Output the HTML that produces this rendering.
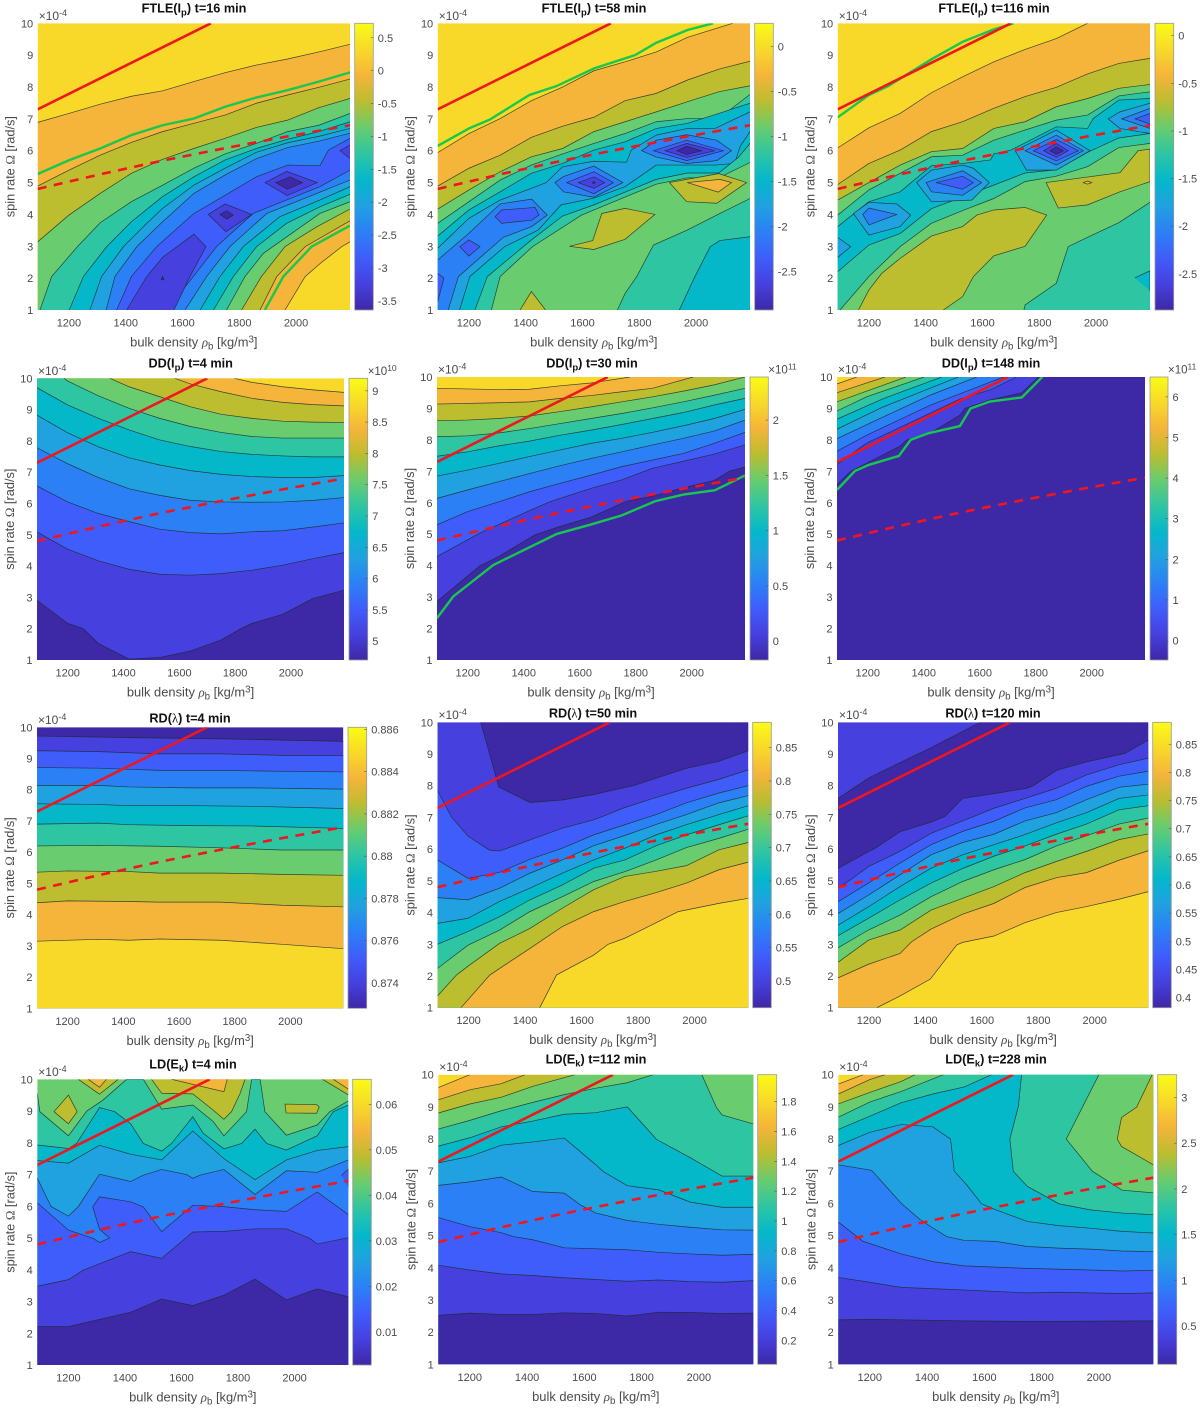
<!DOCTYPE html>
<html lang="en">
<head>
<meta charset="utf-8">
<title>Contour maps of FTLE, DD, RD and LD indicators</title>
<style>
html,body{margin:0;padding:0;background:#fff;}
svg{display:block;font-family:"Liberation Sans",Arial,sans-serif;filter:blur(0.3px);}
</style>
</head>
<body>
<svg id="figure" width="1200" height="1412" viewBox="0 0 1200 1412" xmlns="http://www.w3.org/2000/svg"></svg>
<script>
// ---------- shared data ----------
const bandColors = ['#3d28a6','#4640df','#3f5dfb','#2c80f6','#20a1e0','#04b8ca','#2ec5a3','#69cc6e','#bcbd2f','#f5b43a','#f8d92a'];
const colormapTop = '#f9fb15';
const densityTicks = [1200,1400,1600,1800,2000];
const spinTicks = [1,2,3,4,5,6,7,8,9,10];
const densityRange = [1090,2190];
const spinRange = [1,10];
const solidCritical = [1090,7.3,1420,8.76,1700,10];
const dashedCritical = [1090,4.8,1310,5.26,1530,5.69,1750,6.08,1970,6.45,2190,6.8];

// ---------- FTLE(Ip) t=16 ----------
const ftle16Ticks = [0.5,0,-0.5,-1,-1.5,-2,-2.5,-3,-3.5];
const ftle16Range = [-3.64,0.72];
const ftle16Green = [
 [1090,5.27,1200,5.7,1310,6.07,1420,6.49,1530,6.8,1640,7.01,1750,7.38,1860,7.67,1970,7.9,2080,8.17,2190,8.46],
 [1890,1,1955,2.05,2055,2.99,2190,3.65]
];
const ftle16Bands = [
 [9,[1090,6.89,1200,7.17,1310,7.46,1420,7.71,1530,7.88,1640,8.17,1750,8.45,1860,8.69,1970,8.88,2080,9.1,2190,9.34]],
 [8,[1090,4.89,1200,5.39,1310,5.86,1420,6.26,1530,6.6,1640,6.86,1750,7.12,1860,7.49,1970,7.75,2080,7.99,2190,8.25]],
 [7,[1090,3.14,1200,3.98,1310,4.66,1420,5.29,1530,5.73,1640,6.07,1750,6.39,1860,6.73,1970,6.96,2080,7.35,2190,7.64]],
 [6,[1098,1,1139,2.05,1230,2.99,1310,3.74,1420,4.4,1530,4.92,1640,5.45,1750,5.9,1860,6.23,1970,6.6,2080,6.8,2190,7.17]],
 [5,[1201,1,1251,2.05,1333,2.99,1420,3.77,1530,4.56,1640,5.18,1750,5.71,1860,6.07,1970,6.36,2080,6.6,2190,6.91]],
 [4,[1274,1,1315,2.05,1392,2.99,1474,3.72,1530,4.19,1640,4.92,1750,5.45,1860,5.95,1970,6.25,2080,6.45,2190,6.7]],
 [3,[1331,1,1362,2.05,1439,2.99,1530,3.77,1640,4.66,1750,5.24,1860,5.75,1970,6.1,2080,6.3,2190,6.55]],
 [2,[1368,1,1420,2.05,1509,2.99,1640,4.03,1750,4.6,1860,5.18,1970,5.55,2084,5.53,2114,6.02,2190,6.39]],
 [3,[1544,1,1638,2.05,1720,2.99,1849,4.03,1966,4.45,2084,4.87,2190,5.39]],
 [4,[1609,1,1685,2.05,1767,2.99,1897,4.03,2073,4.66,2190,5.08]],
 [5,[1662,1,1732,2.05,1814,2.99,1943,3.93,2084,4.45,2190,4.87]],
 [6,[1709,1,1779,2.05,1861,2.99,1967,3.72,2084,4.24,2190,4.63]],
 [7,[1755,1,1820,2.05,1885,2.78,2084,4.03,2190,4.4]],
 [8,[1808,1,1878,2.05,1961,2.99,2073,3.61,2190,4.17]],
 [9,[1873,1,1932,2.05,2032,2.99,2190,3.8]],
 [10,[1961,1,2032,2.05,2085,2.46,2161,2.99,2190,3.14]],
 [1,[1403,1,1474,2.05,1532,2.67,1640,3.38,1683,2.99,1626,2.05,1570,1],[]],
 [0,[1525,1.95,1530,2.06,1535,1.95],'loop'],
 [1,[1691,4,1750,4.33,1844,4,1753,3.46],'loop'],
 [0,[1732,4,1756,4.12,1779,3.98,1756,3.85],'loop'],
 [1,[1891,5,1967,5.35,2075,5,1969,4.59],'loop'],
 [0,[1929,5,1979,5.18,2023,5,1969,4.79],'loop'],
 [1,[2190,6.18,2155,6,2190,5.76],[]]
];

// ---------- FTLE(Ip) t=58 ----------
const ftle58Ticks = [0,-0.5,-1,-1.5,-2,-2.5];
const ftle58Range = [-2.93,0.26];
const ftle58Green = [
 [1090,6.15,1200,6.7,1274,6.98,1413,7.75,1509,8.03,1640,8.58,1785,9,1860,9.39,1970,9.79,2060,10]
];
const ftle58Bands = [
 [9,[1090,5.94,1200,6.54,1310,7.01,1420,7.57,1530,8,1640,8.51,1750,8.79,1860,9.1,1970,9.56,2129,10]],
 [8,[1090,4.89,1200,5.45,1310,5.86,1420,6.42,1530,6.77,1640,7.05,1750,7.57,1860,7.8,1970,8.22,2080,8.56,2190,8.81]],
 [7,[1090,4.17,1200,4.77,1310,5.34,1420,5.81,1530,6.07,1640,6.6,1750,6.91,1860,7.22,1970,7.54,2080,7.85,2190,8.04]],
 [6,[1090,3.72,1200,4.4,1310,5.08,1420,5.55,1530,5.9,1640,6.23,1750,6.54,1860,6.91,1970,7.01,2080,7.01,2190,7.77]],
 [5,[1090,3.32,1200,4.14,1310,4.71,1420,5.29,1530,5.6,1640,6.02,1750,6.28,1860,6.7,1970,6.86,2080,7.17,2190,7.49]],
 [4,[1090,2.94,1200,3.88,1310,4.45,1420,4.82,1472,5,1530,5.5,1640,5.67,1755,5.64,1772,6.02,1860,6.49,1970,6.7,2067,6.7,2190,7.22]],
 [5,[1167,1,1203,2.05,1326,2.99,1444,3.51,1525,4.3,1640,4.51,1750,4.87,1860,5.55,1970,5.55,2068,5.55,2136,5.6,2155,6.13,2190,6.6]],
 [6,[1221,1,1265,2.05,1420,3.2,1530,3.95,1640,4.3,1860,5.1,1970,5.3,2080,5.3,2150,5.8,2190,6.23]],
 [7,[1279,1,1310,2.05,1424,2.99,1597,3.98,1860,4.95,1970,5.15,2080,5.15,2190,5.63]],
 [3,[1090,2.57,1200,3.41,1310,4.33,1421,4.48,1476,3.98,1421,3.62,1321,3.28,1163,2.05,1127,1],[1090,1]],
 [2,[1292,3.93,1315,4.14,1433,4.22,1447,3.98,1421,3.82,1315,3.72],'loop'],
 [2,[1200,3.2,1239,2.99,1200,2.69,1168,2.99],'loop'],
 [2,[1090,2.15,1112,2,1090,1.26],[]],
 [3,[1503,5,1533,5.19,1640,5.52,1742,5,1640,4.54,1533,4.71],'loop'],
 [2,[1544,5,1640,5.34,1709,5,1640,4.65],'loop'],
 [1,[1585,5,1640,5.18,1679,5,1640,4.82],'loop'],
 [0,[1635,5,1640,5.04,1645,5,1640,4.96],'loop'],
 [3,[1808,6,1860,6.33,1967,6.5,2073,6.33,2125,6,2073,5.69,1967,5.6,1860,5.8],'loop'],
 [2,[1850,6,1967,6.33,2096,6,1967,5.69],'loop'],
 [1,[1891,6,1967,6.23,2067,6,1967,5.79],'loop'],
 [0,[1932,6,1967,6.14,2020,6,1967,5.88],'loop'],
 [8,[1554,3,1636,3.18,1668,4.03,1750,4.19,1855,4,1750,3.22,1640,2.9],'loop'],
 [8,[1906,5,1967,5.1,2080,5.28,2178,5,2073,4.35,1967,4.4],'loop'],
 [9,[1969,5,2084,5.1,2125,5,2078,4.7],'loop'],
 [8,[1380,1,1420,1.58,1470,1],[]],
 [6,[1723,1,1750,1.52,1791,2.05,1850,3.04,1967,3.5,2084,4.03,2190,4.5]],
 [5,[1941,1,1996,2.05,2050,2.99,2084,3.18,2190,3.3]]
];

// ---------- FTLE(Ip) t=116 ----------
const ftle116Ticks = [0,-0.5,-1,-1.5,-2,-2.5];
const ftle116Range = [-2.88,0.13];
const ftle116Green = [
 [1090,7.05,1200,7.75,1268,8.03,1420,8.87,1530,9.42,1640,9.81,1709,10]
];
const ftle116Bands = [
 [9,[1090,6.09,1200,6.72,1310,7.17,1420,7.82,1530,8.32,1640,8.79,1750,9.18,1860,9.52,1970,10]],
 [8,[1090,4.94,1200,5.6,1310,6.02,1420,6.6,1530,6.91,1640,7.33,1750,7.7,1860,7.99,1970,8.41,2080,8.74,2190,8.9]],
 [7,[1090,4.45,1200,5,1310,5.55,1420,5.97,1530,6.07,1640,6.7,1750,6.91,1860,7.38,1970,7.64,2080,7.96,2190,8.08]],
 [6,[1090,3.98,1200,4.77,1310,5.29,1420,5.81,1530,5.86,1640,6.33,1750,6.65,1860,6.96,1970,7.12,2080,7.72,2190,7.85]],
 [5,[1090,3.62,1200,4.4,1310,4.71,1420,5.53,1530,5.6,1628,5.71,1640,5.9,1700,6.02,1860,6.75,1970,6.7,1990,7.01,2080,7.59,2190,7.64]],
 [6,[1090,2.2,1200,3.04,1310,3.4,1420,4.18,1530,4.55,1640,4.92,1750,5.3,1860,5.4,1970,5.95,2080,6.4,2190,6.54]],
 [7,[1098,1,1200,2.05,1310,2.99,1420,3.72,1530,4.12,1640,4.5,1750,5.03,1860,5.2,1970,5.5,2080,6.1,2190,6.23]],
 [8,[1163,1,1200,1.63,1245,2.15,1310,2.62,1420,3.32,1530,3.62,1580,3.98,1640,4.14,1750,4.22,1826,3.98,1750,3,1640,2.7,1568,2.05,1530,1.42,1462,1],[]],
 [8,[1824,5,2084,5.31,2148,6,2190,6.05,2190,5.03,2084,4.71,1970,4.3,1867,4.2],'loop'],
 [9,[1955,5,1970,5.05,1985,5,1970,4.95],'loop'],
 [6,[1746,1,1750,1.16,1860,1.84,1902,2.99,1970,3.28,2080,3.74,2190,4.38]],
 [5,[2137,2.01,2190,2.23,2190,1.6],[]],
 [4,[1090,3.28,1136,2.99,1090,2.65],[]],
 [4,[1145,4.03,1200,4.38,1298,4.33,1347,3.98,1310,3.62,1200,3.35],'loop'],
 [3,[1178,4,1200,4.2,1298,4,1200,3.67],'loop'],
 [4,[1368,5,1420,5.39,1530,5.55,1568,5.45,1624,5,1562,4.45,1420,4.4],'loop'],
 [3,[1401,5,1530,5.37,1597,5,1530,4.6,1420,4.71],'loop'],
 [2,[1436,5,1530,5.2,1568,5,1530,4.79],'loop'],
 [4,[1715,6,1860,6.65,1979,6,1860,5.39,1755,5.39],'loop'],
 [3,[1750,6,1860,6.49,1955,6,1860,5.55],'loop'],
 [2,[1779,6,1860,6.35,1938,6,1860,5.68],'loop'],
 [1,[1815,6,1860,6.23,1902,6,1860,5.79],'loop'],
 [0,[1838,6,1860,6.12,1885,6,1860,5.89],'loop'],
 [4,[2190,7.49,2084,7.22,2043,7,2084,6.7,2190,6.54],[]],
 [3,[2190,7.33,2090,7,2190,6.7],[]],
 [2,[2190,7.17,2137,7,2190,6.84],[]]
];

// ---------- DD(Ip) t=4 ----------
const dd4Ticks = [9,8.5,8,7.5,7,6.5,6,5.5,5];
const dd4Range = [4.7,9.2];
const dd4Green = [];
const dd4Bands = [
 [9,[1797,10,1860,9.87,1970,9.73,2080,9.63,2190,9.55]],
 [8,[1584,10,1640,9.82,1750,9.57,1860,9.36,1970,9.23,2080,9.16,2190,9.12]],
 [7,[1351,10,1420,9.73,1530,9.41,1640,9.09,1750,8.85,1860,8.72,1970,8.63,2080,8.6,2190,8.59]],
 [6,[1187,10,1200,9.91,1310,9.44,1420,9.04,1530,8.72,1640,8.46,1750,8.27,1860,8.14,1970,8.09,2080,8.09,2190,8.09]],
 [5,[1090,9.7,1200,9.15,1310,8.72,1420,8.35,1530,8.03,1640,7.82,1750,7.66,1860,7.57,1970,7.52,2080,7.49,2190,7.49]],
 [4,[1090,8.82,1200,8.26,1310,7.81,1420,7.46,1530,7.23,1640,7.05,1750,6.93,1860,6.86,1970,6.83,2080,6.83,2190,6.89]],
 [3,[1090,7.78,1200,7.27,1310,6.83,1420,6.47,1530,6.26,1640,6.1,1750,6.05,1860,6.04,1970,6.05,2080,6.1,2190,6.19]],
 [2,[1090,6.56,1200,6.05,1310,5.68,1420,5.42,1530,5.18,1640,5.07,1750,5.03,1860,5.1,1970,5.13,2080,5.25,2190,5.38]],
 [1,[1090,5.09,1200,4.54,1310,4.17,1420,3.9,1530,3.74,1640,3.71,1750,3.76,1860,3.87,1970,4.03,2080,4.24,2190,4.43]],
 [0,[1090,2.91,1200,2.17,1256,2,1310,1.53,1420,1.03,1530,1.08,1640,1.29,1750,1.64,1820,2,1860,2.17,1970,2.46,2080,2.97,2190,3.23]]
];

// ---------- DD(Ip) t=30 ----------
const dd30Ticks = [2,1.5,1,0.5,0];
const dd30Range = [-0.17,2.39];
const dd30Green = [
 [1090,2.33,1148,3.02,1291,4.02,1518,5.01,1636,5.3,1750,5.6,1869,6.05,1970,6.26,2083,6.4,2190,6.87]
];
const dd30Bands = [
 [9,[1090,9.64,1310,9.6,1420,9.61,1530,9.72,1640,9.81,1780,10]],
 [8,[1090,9.14,1310,9.18,1420,9.21,1530,9.32,1640,9.41,1750,9.53,1860,9.64,2005,10]],
 [7,[1090,8.61,1200,8.63,1310,8.68,1420,8.76,1530,8.9,1640,9.05,1750,9.21,1860,9.37,1970,9.55,2080,9.75,2190,10]],
 [6,[1090,8.1,1200,8.13,1310,8.22,1420,8.36,1530,8.52,1640,8.68,1750,8.84,1860,9.02,1970,9.21,2080,9.42,2190,9.64]],
 [5,[1090,7.48,1200,7.62,1310,7.81,1420,7.96,1530,8.15,1640,8.31,1750,8.49,1860,8.68,1970,8.87,2080,9.11,2190,9.32]],
 [4,[1090,6.85,1200,7.04,1310,7.25,1420,7.47,1530,7.68,1640,7.89,1750,8.05,1860,8.24,1970,8.45,2080,8.68,2190,8.97]],
 [3,[1090,6.14,1200,6.41,1310,6.67,1420,6.93,1530,7.18,1640,7.41,1750,7.62,1860,7.84,1970,8.05,2080,8.28,2190,8.63]],
 [2,[1090,5.3,1200,5.72,1310,6.03,1420,6.35,1530,6.62,1640,6.88,1750,7.15,1860,7.36,1970,7.57,2080,7.89,2190,8.24]],
 [1,[1090,4.29,1244,5.04,1420,5.75,1495,6.04,1640,6.46,1750,6.73,1860,7.1,1970,7.32,2080,7.55,2190,7.84]],
 [0,[1090,2.86,1244,4,1310,4.29,1440,4.98,1530,5.25,1640,5.54,1767,6.05,1860,6.21,1970,6.48,2080,6.71,2136,7.01,2190,7.14]]
];

// ---------- DD(Ip) t=148 ----------
const dd148Ticks = [6,5,4,3,2,1,0];
const dd148Range = [-0.48,6.49];
const dd148Green = [
 [1090,6.41,1154,7.01,1202,7.2,1311,7.49,1353,8,1416,8.21,1529,8.44,1567,9,1636,9.22,1750,9.35,1823,10]
];
const dd148Bands = [
 [9,[1090,9.78,1160,10]],
 [8,[1090,9.5,1261,10]],
 [7,[1090,9.21,1336,10]],
 [6,[1090,8.92,1196,9.37,1401,10]],
 [5,[1090,8.66,1255,9.31,1464,10]],
 [4,[1090,8.34,1255,9.05,1523,10]],
 [3,[1090,8.04,1255,8.73,1422,9.42,1589,10]],
 [2,[1090,7.64,1196,8.15,1422,9.1,1684,10]],
 [1,[1090,7.22,1196,7.9,1422,8.85,1530,9.3,1640,9.6,1731,10]],
 [0,[1090,6.58,1137,6.99,1315,7.8,1339,8,1422,8.21,1529,8.79,1547,9,1636,9.27,1750,9.5,1809,10]]
];

// ---------- RD(lambda) t=4 ----------
const rd4Ticks = [0.886,0.884,0.882,0.88,0.878,0.876,0.874];
const rd4Range = [0.8728,0.8861];
const rd4Green = [];
const rd4Bands = [
 [1,[1090,9.72,1420,9.67,1750,9.63,2190,9.55]],
 [2,[1090,9.25,1310,9.22,1530,9.15,1750,9.15,1970,9.1,2190,9.09]],
 [3,[1090,8.71,1310,8.69,1530,8.62,1750,8.62,1970,8.59,2190,8.57]],
 [4,[1090,8.14,1310,8.14,1420,8.09,1640,8.06,1860,8.06,2190,8.02]],
 [5,[1090,7.55,1310,7.53,1420,7.49,1640,7.49,1860,7.47,2190,7.4]],
 [6,[1090,6.9,1310,6.93,1420,6.88,1640,6.85,1860,6.84,2190,6.76]],
 [7,[1090,6.2,1310,6.22,1530,6.19,1750,6.14,1970,6.07,2190,6.07]],
 [8,[1090,5.36,1200,5.4,1420,5.38,1530,5.33,1750,5.33,1970,5.29,2190,5.26]],
 [9,[1090,4.38,1200,4.44,1420,4.42,1530,4.4,1750,4.4,1970,4.3,2190,4.25]],
 [10,[1090,3.15,1310,3.21,1420,3.18,1530,3.22,1750,3.18,1970,3.05,2190,2.91]]
];

// ---------- RD(lambda) t=50 ----------
const rd50Ticks = [0.85,0.8,0.75,0.7,0.65,0.6,0.55,0.5];
const rd50Range = [0.46,0.888];
const rd50Green = [];
const rd50Bands = [
 [0,[1243,10,1307,7.96,1417,7.47,1532,7.55,1641,7.72,1783,8,1971,8.55,2086,8.77,2190,9.1],[2190,10]],
 [2,[1090,7.85,1139,7.02,1198,6.41,1274,5.97,1310,5.94,1417,6.29,1532,6.66,1641,6.92,1675,7.03,1746,7.29,1853,7.6,1971,7.92,2086,8.2,2190,8.5]],
 [3,[1090,5.66,1198,5.08,1310,5.27,1417,5.68,1532,6.03,1643,6.45,1753,6.77,1864,7.09,1971,7.46,2086,7.77,2190,8]],
 [4,[1090,4.47,1198,4.4,1310,4.77,1417,5.24,1532,5.66,1643,6.11,1753,6.43,1864,6.78,1971,7.09,2086,7.46,2190,7.69]],
 [5,[1090,3.66,1198,3.82,1310,4.35,1417,4.77,1532,5.24,1643,5.66,1753,6.03,1864,6.45,1971,6.77,2086,7.09,2190,7.37]],
 [6,[1090,3,1198,3.4,1310,3.87,1417,4.4,1532,4.87,1643,5.4,1753,5.66,1864,6.11,1971,6.45,2086,6.77,2190,7.05]],
 [7,[1090,2.24,1198,2.97,1310,3.45,1417,4.03,1532,4.5,1643,4.98,1753,5.29,1864,5.66,1971,6.05,2086,6.34,2190,6.63]],
 [8,[1090,1.37,1157,2.03,1198,2.31,1310,3.03,1417,3.5,1532,4.14,1643,4.72,1753,5.14,1864,5.3,1971,5.48,2086,5.98,2190,6.21]],
 [9,[1173,1,1275,2.03,1417,2.87,1532,3.56,1643,4.03,1753,4.35,1864,4.63,1971,4.93,2086,5.35,2190,5.59]],
 [10,[1452,1,1511,2.03,1643,2.66,1694,3,1753,3.19,1864,3.68,1942,4.03,2086,4.29,2190,4.45]]
];

// ---------- RD(lambda) t=120 ----------
const rd120Ticks = [0.85,0.8,0.75,0.7,0.65,0.6,0.55,0.5,0.45,0.4];
const rd120Range = [0.382,0.889];
const rd120Green = [];
const rd120Bands = [
 [0,[1090,7.6,1200,8.25,1310,8.73,1420,9.2,1594,10]],
 [1,[1090,5.39,1198,5.92,1222,6.03,1310,6.55,1420,6.85,1469,7.03,1532,7.6,1643,7.75,1759,7.92,1783,8,1866,8.49,1971,8.75,2107,9.02,2190,9.44]],
 [2,[1090,4.77,1134,5.03,1198,5.45,1310,5.93,1420,6.5,1532,6.89,1643,7.29,1753,7.6,1864,7.92,1971,8.34,2086,8.66,2190,8.87]],
 [3,[1090,4.34,1198,4.93,1310,5.56,1420,6.14,1532,6.56,1643,6.88,1753,7.3,1864,7.56,1971,7.98,2086,8.3,2190,8.46]],
 [4,[1090,3.97,1198,4.55,1310,5.19,1420,5.82,1532,6.21,1643,6.47,1753,6.89,1864,7.15,1971,7.56,2086,7.95,2190,8.05]],
 [5,[1090,3.6,1198,4.18,1310,4.82,1420,5.4,1532,5.82,1643,6.14,1753,6.46,1864,6.83,1971,7.15,2086,7.6,2190,7.71]],
 [6,[1090,3.27,1198,3.82,1310,4.4,1420,4.93,1532,5.39,1643,5.78,1753,6.1,1864,6.47,1971,6.79,2086,7.24,2190,7.37]],
 [7,[1090,2.89,1198,3.45,1310,3.92,1420,4.5,1532,4.98,1643,5.35,1753,5.67,1864,6.1,1971,6.42,2086,6.79,2190,6.98]],
 [8,[1090,2.43,1198,3.13,1310,3.45,1420,4.08,1532,4.45,1643,4.82,1753,5.26,1864,5.61,1971,5.93,2086,6.3,2190,6.48]],
 [9,[1090,1.94,1198,2.37,1310,2.71,1351,3.08,1420,3.48,1532,3.95,1643,4.29,1753,4.79,1864,5.1,1971,5.26,2086,5.65,2190,5.95]],
 [10,[1228,1,1310,1.37,1417,1.9,1511,2.98,1532,3.06,1643,3.26,1753,3.68,1864,4,1971,4.19,2086,4.42,2190,4.66]]
];

// ---------- LD(Ek) t=4 ----------
const ld4Ticks = [0.06,0.05,0.04,0.03,0.02,0.01];
const ld4Range = [0.0027,0.0655];
const ld4Green = [];
const ld4Bands = [
 [8,[1149,8.98,1200,9.5,1231,8.98,1200,8.6],'loop'],
 [8,[1235,10,1310,9.53,1376,10],[]],
 [9,[1270,10,1310,9.75,1335,10],[]],
 [8,[1494,10,1530,9.56,1640,9.54,1712,9.03,1750,8.74,1777,8.98,1807,9.55,1825,10],[]],
 [9,[1565,10,1750,9.61,1762,10],[]],
 [8,[1966,9.22,1970,8.94,2078,8.93,2087,9.13,2078,9.2],'loop'],
 [8,[2099,10,2190,9.51],[2190,10]],
 [9,[2137,10,2190,9.69],[2190,10]],
 [6,[1090,9.56,1099,8.98,1200,8.22,1265,9,1323,9.35,1406,10,1465,10,1530,9.06,1640,9.19,1712,8.67,1750,8.22,1830,8.98,1848,10,1878,10,1895,8.98,1971,8.24,2080,8.56,2125,8.98,2190,9.32]],
 [5,[1090,7.93,1200,7.82,1229,7.98,1310,9.11,1364,8.98,1420,8.6,1465,7.98,1530,7.74,1565,7.98,1640,8.82,1677,8.3,1750,7.81,1813,7.98,1860,8.43,1901,7.98,1971,7.77,2080,8.22,2137,8.98,2190,9.19]],
 [4,[1090,7.44,1200,7.36,1310,7.92,1420,7.64,1530,7.46,1640,8.37,1750,7.5,1860,6.84,1971,7.46,2080,7.76,2190,7.88]],
 [3,[1090,6.88,1139,5.99,1200,5.69,1235,5.99,1310,7.01,1420,6.78,1465,6.98,1530,7.16,1618,7,1640,6.88,1665,6.98,1750,7.16,1860,6.37,1971,7.12,2080,7.07,2190,7.46]],
 [2,[1090,6.11,1200,5.25,1287,4.99,1310,4.86,1345,5,1310,5.28,1286,5.98,1310,6.3,1420,6.14,1465,5.98,1530,5.2,1640,6.03,1750,5.99,1860,5.89,1971,5.84,2080,6.45,2190,5.74]],
 [2,[2166,6.97,2190,7.17,2190,6.6],[]],
 [1,[1090,3.48,1200,3.69,1253,3.99,1420,4.57,1530,4.36,1640,5.19,1750,5.21,1860,5.29,1971,5.29,2054,4.99,2080,4.81,2190,5.01]],
 [0,[1090,2.21,1200,2.21,1420,2.66,1530,3.08,1640,2.87,1750,3.2,1860,3.71,1971,3.05,2080,3.4,2190,3.15]]
];

// ---------- LD(Ek) t=112 ----------
const ld112Ticks = [1.8,1.6,1.4,1.2,1,0.8,0.6,0.4,0.2];
const ld112Range = [0.04,1.98];
const ld112Green = [];
const ld112Bands = [
 [9,[1090,9.6,1200,10]],
 [8,[1090,9.22,1200,9.53,1310,9.72,1393,10]],
 [7,[1090,8.81,1200,9.09,1310,9.3,1420,9.64,1567,10]],
 [6,[1090,8.31,1200,8.58,1310,8.88,1420,9.14,1530,9.38,1640,9.58,1750,9.75,1841,10]],
 [7,[2010,10,2062,8.97,2081,8.75,2190,8.47],[2190,10]],
 [5,[1090,7.78,1200,8.04,1310,8.38,1420,8.56,1530,8.77,1640,8.82,1750,9,1852,7.99,1970,7.42,2081,6.85,2190,6.85]],
 [4,[1090,7.26,1200,7.46,1310,7.81,1420,7.91,1530,8.03,1640,7.2,1666,6.99,1750,6.55,1860,6.42,1970,6.04,2081,5.88,2190,5.88]],
 [3,[1090,6.56,1200,6.67,1310,6.82,1420,6.37,1530,6.32,1585,5.96,1640,5.7,1750,5.47,1860,5.35,1970,5.26,2081,5.18,2190,5.17]],
 [2,[1090,5.56,1200,5.28,1310,5.09,1352,4.97,1420,4.87,1530,4.62,1750,4.56,1860,4.48,1970,4.43,2081,4.39,2190,4.42]],
 [1,[1090,4.08,1200,3.93,1310,3.81,1420,3.76,1530,3.69,1750,3.58,1860,3.62,1970,3.57,2081,3.55,2190,3.6]],
 [0,[1090,2.52,1200,2.59,1310,2.55,1420,2.55,1530,2.6,1640,2.58,1750,2.5,1860,2.62,1970,2.61,2081,2.58,2190,2.59]]
];

// ---------- LD(Ek) t=228 ----------
const ld228Ticks = [3,2.5,2,1.5,1,0.5];
const ld228Range = [0.08,3.25];
const ld228Green = [];
const ld228Bands = [
 [9,[1090,9.71,1177,10]],
 [8,[1090,9.4,1200,9.85,1253,10]],
 [7,[1090,9.09,1200,9.45,1310,9.79,1358,10]],
 [6,[1090,8.68,1200,9.15,1310,9.48,1457,10]],
 [5,[1090,8.3,1200,8.71,1310,9.13,1420,9.4,1530,9.62,1625,10]],
 [6,[1730,10,1719,9.02,1689,8,1701,7,1750,6.53,1860,5.99,1970,5.8,2081,5.7,2190,5.65],[2190,10]],
 [7,[2000,10,1886,8,1977,7,2081,6.41,2190,6.33],[2190,10]],
 [8,[2186,10,2132,8.99,2079,8.67,2064,8,2079,7.77,2190,7.2],[2190,10]],
 [4,[1090,7.8,1200,8.21,1310,8.45,1420,8.38,1482,8,1495,7,1538,6.58,1590,5.99,1640,5.8,1750,5.44,1860,5.31,1970,5.23,2081,5.13,2190,5.08]],
 [3,[1090,7.2,1206,7.03,1310,6,1375,5.5,1420,5.24,1468,4.97,1530,4.85,1640,4.82,1750,4.66,1860,4.61,1970,4.58,2081,4.52,2190,4.5]],
 [2,[1090,5.42,1177,4.82,1310,4.43,1420,4.19,1530,4.06,1750,3.98,1970,3.93,2081,3.9,2190,3.92]],
 [1,[1090,3.7,1200,3.55,1310,3.39,1530,3.31,1750,3.22,1860,3.24,2081,3.2,2190,3.22]],
 [0,[1090,2.38,1200,2.4,1530,2.35,1750,2.33,2190,2.35]]
];

// ---------- panel layout ----------
const panels = [
 {id:'ftle-16',name:'FTLE',arg:'I',sub:'p',suffix:') t=16 min',tx:194,ty:12.5,l:37.7,r:350,t:23.3,b:310,cl:354.7,cr:373.3,base:10,ticks:ftle16Ticks,range:ftle16Range,bands:ftle16Bands,green:ftle16Green},
 {id:'ftle-58',name:'FTLE',arg:'I',sub:'p',suffix:') t=58 min',tx:594,ty:12.5,l:437.7,r:750,t:23.3,b:310,cl:754.7,cr:773.3,base:10,ticks:ftle58Ticks,range:ftle58Range,bands:ftle58Bands,green:ftle58Green},
 {id:'ftle-116',name:'FTLE',arg:'I',sub:'p',suffix:') t=116 min',tx:994,ty:12.5,l:837.7,r:1150,t:23.3,b:310,cl:1155,cr:1173.7,base:10,ticks:ftle116Ticks,range:ftle116Range,bands:ftle116Bands,green:ftle116Green},
 {id:'dd-4',name:'DD',arg:'I',sub:'p',suffix:') t=4 min',tx:190.7,ty:367.5,l:37,r:344,t:378.3,b:660,cl:349,cr:367.7,base:10,mult:'10',multExp:'10',ticks:dd4Ticks,range:dd4Range,bands:dd4Bands,green:dd4Green},
 {id:'dd-30',name:'DD',arg:'I',sub:'p',suffix:') t=30 min',tx:592,ty:367.5,l:437,r:745,t:377,b:660,cl:750,cr:768.3,base:10,mult:'10',multExp:'11',ticks:dd30Ticks,range:dd30Range,bands:dd30Bands,green:dd30Green},
 {id:'dd-148',name:'DD',arg:'I',sub:'p',suffix:') t=148 min',tx:991,ty:367.5,l:837,r:1145,t:377,b:660,cl:1150,cr:1168,base:10,mult:'10',multExp:'11',ticks:dd148Ticks,range:dd148Range,bands:dd148Bands,green:dd148Green},
 {id:'rd-4',name:'RD',arg:'λ',sub:'',suffix:') t=4 min',tx:190,ty:722.5,l:37,r:343.3,t:727.3,b:1008.3,cl:348,cr:366.7,base:0,ticks:rd4Ticks,range:rd4Range,bands:rd4Bands,green:rd4Green},
 {id:'rd-50',name:'RD',arg:'λ',sub:'',suffix:') t=50 min',tx:593,ty:717.5,l:437.5,r:748.3,t:722.3,b:1007.7,cl:752.7,cr:771.3,base:1,ticks:rd50Ticks,range:rd50Range,bands:rd50Bands,green:rd50Green},
 {id:'rd-120',name:'RD',arg:'λ',sub:'',suffix:') t=120 min',tx:993,ty:717.5,l:838,r:1148.3,t:722.3,b:1007.7,cl:1152.7,cr:1171.3,base:1,ticks:rd120Ticks,range:rd120Range,bands:rd120Bands,green:rd120Green},
 {id:'ld-4',name:'LD',arg:'E',sub:'k',suffix:') t=4 min',tx:193,ty:1068.5,l:37.3,r:348.3,t:1079.3,b:1365,cl:352.7,cr:371.3,base:7,ticks:ld4Ticks,range:ld4Range,bands:ld4Bands,green:ld4Green},
 {id:'ld-112',name:'LD',arg:'E',sub:'k',suffix:') t=112 min',tx:596,ty:1063.5,l:438.3,r:753.3,t:1074.7,b:1364.3,cl:757.7,cr:776.7,base:10,ticks:ld112Ticks,range:ld112Range,bands:ld112Bands,green:ld112Green},
 {id:'ld-228',name:'LD',arg:'E',sub:'k',suffix:') t=228 min',tx:996,ty:1063.5,l:838.3,r:1153.3,t:1074.7,b:1364.3,cl:1157.7,cr:1176.7,base:10,ticks:ld228Ticks,range:ld228Range,bands:ld228Bands,green:ld228Green}
];

// ---------- drawing ----------
const NS = 'http://www.w3.org/2000/svg';
const svg = document.getElementById('figure');
function mk(tag, attrs, parent){
  const e = document.createElementNS(NS, tag);
  for (const k in attrs) e.setAttribute(k, attrs[k]);
  (parent || svg).appendChild(e);
  return e;
}
function tspan(parent, text, attrs){
  const t = mk('tspan', attrs || {}, parent);
  t.textContent = text;
  return t;
}
const defs = mk('defs', {});
const gradient = mk('linearGradient', {id:'parula', x1:0, y1:1, x2:0, y2:0}, defs);
bandColors.forEach(function(c, i){
  mk('stop', {offset:i/11, 'stop-color':c}, gradient);
});
mk('stop', {offset:1, 'stop-color':colormapTop}, gradient);

const textColor = '#4a4a4a';

function polyPoints(flat, X, Y){
  const out = [];
  for (let i = 0; i < flat.length; i += 2) out.push(X(flat[i]).toFixed(2) + ',' + Y(flat[i+1]).toFixed(2));
  return out;
}
function belowCorners(line){
  const n = line.length;
  const extra = [];
  const xMax = densityRange[1], xMin = densityRange[0], yMin = spinRange[0], yMax = spinRange[1];
  if (line[n-2] < xMax) extra.push(xMax, yMax);
  extra.push(xMax, yMin);
  if (line[1] === yMax) extra.push(xMin, yMin, xMin, yMax);
  else if (line[0] === xMin) extra.push(xMin, yMin);
  return extra;
}

panels.forEach(function(p){
  const X = function(v){ return p.l + (v - densityRange[0]) / (densityRange[1] - densityRange[0]) * (p.r - p.l); };
  const Y = function(v){ return p.b - (v - spinRange[0]) / (spinRange[1] - spinRange[0]) * (p.b - p.t); };
  const C = function(v){ return p.b - (v - p.range[0]) / (p.range[1] - p.range[0]) * (p.b - p.t); };

  const g = mk('g', {});
  
  

  const clipId = 'clip-' + p.id;
  const cp = mk('clipPath', {id:clipId}, defs);
  mk('rect', {x:p.l, y:p.t, width:p.r-p.l, height:p.b-p.t}, cp);

  const plot = mk('g', {'clip-path':'url(#' + clipId + ')'}, g);
  
  

  const bg = mk('rect', {x:p.l, y:p.t, width:p.r-p.l, height:p.b-p.t, fill:bandColors[p.base]}, plot);
  
  

  p.bands.forEach(function(entry){
    const band = entry[0], line = entry[1], mode = entry[2];
    const pts = polyPoints(line, X, Y);
    let extra;
    if (mode === 'loop') extra = [];
    else if (Array.isArray(mode)) extra = mode;
    else extra = belowCorners(line);
    const fillPts = pts.concat(polyPoints(extra, X, Y));
    const fill = mk('polygon', {points:fillPts.join(' '), fill:bandColors[band], stroke:'none'}, plot);
    
    
    const stroke = mk(mode === 'loop' ? 'polygon' : 'polyline', {points:pts.join(' '), fill:'none', stroke:'#1c2a2c', 'stroke-width':0.7, 'stroke-opacity':0.85}, plot);
    
    
  });

  p.green.forEach(function(line){
    const gl = mk('polyline', {points:polyPoints(line, X, Y).join(' '), fill:'none', stroke:'#16c84e', 'stroke-width':2.4}, plot);
    
    
  });

  const solid = mk('polyline', {points:polyPoints(solidCritical, X, Y).join(' '), fill:'none', stroke:'#f0161e', 'stroke-width':2.6}, plot);
  
  
  const dashed = mk('polyline', {points:polyPoints(dashedCritical, X, Y).join(' '), fill:'none', stroke:'#f0161e', 'stroke-width':2.6, 'stroke-dasharray':'9 7.5'}, plot);
  
  

  // axis tick labels
  densityTicks.forEach(function(v){
    const t = mk('text', {x:X(v), y:p.b + 16.5, 'text-anchor':'middle', 'font-size':11, fill:textColor}, g);
    t.textContent = v;
    
    
  });
  spinTicks.forEach(function(v){
    const t = mk('text', {x:p.l - 4.5, y:Y(v) + 4, 'text-anchor':'end', 'font-size':11, fill:textColor}, g);
    t.textContent = v;
    
    
  });

  // y exponent
  const ex = mk('text', {x:p.l + 1, y:p.t - 3.5, 'font-size':12, fill:textColor}, g);
  
  
  tspan(ex, '×10');
  tspan(ex, '-4', {'font-size':9, dy:-4});

  // x label
  const cx = (p.l + p.r) / 2;
  const xl = mk('text', {x:cx, y:p.b + 36.5, 'text-anchor':'middle', 'font-size':12.9, fill:textColor}, g);
  
  
  tspan(xl, 'bulk density ');
  tspan(xl, 'ρ', {'font-family':'"Liberation Serif",serif', 'font-style':'italic'});
  tspan(xl, 'b', {'font-size':9.7, dy:3});
  tspan(xl, ' [kg/m', {dy:-3});
  tspan(xl, '3', {'font-size':9.7, dy:-4});
  tspan(xl, ']', {dy:4});

  // y label
  const cyMid = (p.t + p.b) / 2;
  const ylx = p.l - 23;
  const yl = mk('text', {x:ylx, y:cyMid, 'text-anchor':'middle', 'font-size':12.8, fill:textColor, transform:'rotate(-90 ' + ylx + ' ' + cyMid + ')'}, g);
  
  
  tspan(yl, 'spin rate ');
  tspan(yl, 'Ω', {'font-family':'"Liberation Serif",serif'});
  tspan(yl, ' [rad/s]');

  // title
  const title = mk('text', {x:p.tx, y:p.ty, 'text-anchor':'middle', 'font-size':12.7, 'font-weight':'bold', fill:'#111'}, g);
  
  
  tspan(title, p.name + '(');
  if (p.sub) {
    tspan(title, p.arg);
    tspan(title, p.sub, {'font-size':9.5, dy:3});
    tspan(title, p.suffix, {dy:-3});
  } else {
    tspan(title, p.arg, {'font-family':'"Liberation Serif",serif', 'font-weight':'normal'});
    tspan(title, p.suffix);
  }

  // colorbar
  const bar = mk('rect', {x:p.cl, y:p.t, width:p.cr-p.cl, height:p.b-p.t, fill:'url(#parula)', stroke:'#9a9a9a', 'stroke-width':0.8}, g);
  
  
  p.ticks.forEach(function(v){
    const tk = mk('line', {x1:p.cr-2.5, x2:p.cr, y1:C(v), y2:C(v), stroke:'#555', 'stroke-width':0.6}, g);
    
    
    const lb = mk('text', {x:p.cr + 4.5, y:C(v) + 4, 'font-size':11, fill:textColor}, g);
    lb.textContent = v;
    
    
  });
  if (p.mult) {
    const m = mk('text', {x:p.cr, y:p.t - 3.5, 'font-size':11.5, fill:textColor}, g);
    
    
    tspan(m, '×' + p.mult);
    tspan(m, p.multExp, {'font-size':8.5, dy:-4});
  }
});
</script>
</body>
</html>
